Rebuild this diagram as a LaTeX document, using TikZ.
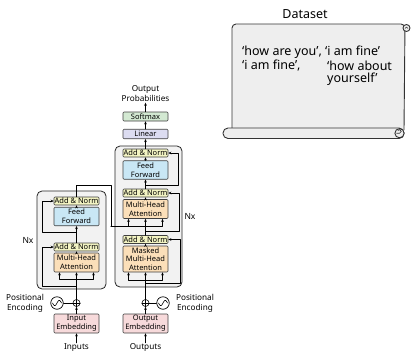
\documentclass[tikz,border=0pt]{standalone}
\usepackage{fontspec}
\setmainfont{Noto Sans}
\usetikzlibrary{arrows.meta}
\definecolor{anfill}{HTML}{F3F4C3}
\definecolor{fffill}{HTML}{C9E7F5}
\definecolor{mhafill}{HTML}{FBDFB9}
\definecolor{embfill}{HTML}{F7DADB}
\definecolor{linfill}{HTML}{DCDCF1}
\definecolor{smfill}{HTML}{D3E9D2}
\definecolor{layerfill}{HTML}{F2F2F2}
\definecolor{scrollfill}{HTML}{EEEEEE}
\begin{document}
\begin{tikzpicture}[x=1pt,y=-1pt,line join=round,line cap=round,>={Stealth[length=3pt,width=2.6pt]},
	font=\fontsize{8.2}{10}\selectfont,
	lbl/.style={inner sep=1pt,align=center},
	blk/.style={draw=black!75,line width=0.6pt,rounded corners=1pt,minimum width=45pt,inner sep=0pt,align=center,font=\fontsize{7.5}{8.7}\selectfont},
	addnorm/.style={blk,fill=anfill,minimum height=8pt},
	ffn/.style={blk,fill=fffill,minimum height=18.5pt},
	mha/.style={blk,fill=mhafill,minimum height=19pt},
	emb/.style={blk,fill=embfill,minimum height=19pt},
	layer/.style={draw=black!85,fill=layerfill,rounded corners=5pt,line width=0.8pt},
	sumnode/.style={draw,circle,minimum size=7pt,inner sep=0pt,line width=0.6pt},
	wavenode/.style={draw,circle,minimum size=12.5pt,inner sep=0pt,line width=0.7pt},
	scroll/.style={draw=black!80,fill=scrollfill,line width=0.9pt}]
	\useasboundingbox (0,0) rectangle (412,354);
	% encoder and decoder stacks
	\draw[layer] (37,191) rectangle (106,289);
	\draw[layer] (115,146) rectangle (182,287);
	\node[addnorm] (eAN2) at (76.5,201) {Add \& Norm};
	\node[ffn] (eFF) at (76.5,216.5) {Feed\\Forward};
	\node[addnorm] (eAN1) at (76.5,247) {Add \& Norm};
	\node[mha] (eMHA) at (76.5,262.5) {Multi-Head\\Attention};
	\node[sumnode] (eSum) at (76.5,303) {};
	\node[wavenode] (eWave) at (57,303) {};
	\node[emb] (eEmb) at (76.5,323.5) {Input\\Embedding};
	\node[lbl] (inp) at (76.5,348) {Inputs};
	\node[lbl] (ePE) at (25,303) {Positional\\Encoding};
	\node[lbl,font=\fontsize{8.5}{10}\selectfont] (eN) at (28,240) {Nx};
	\node[lbl] (prob) at (145.5,93.5) {Output\\Probabilities};
	\node[blk,fill=smfill,minimum height=9pt] (soft) at (145.5,116.5) {Softmax};
	\node[blk,fill=linfill,minimum height=9.5pt] (lin) at (145.5,134) {Linear};
	\node[addnorm] (dAN3) at (145.5,153) {Add \& Norm};
	\node[ffn] (dFF) at (145.5,170) {Feed\\Forward};
	\node[addnorm] (dAN2) at (145.5,193) {Add \& Norm};
	\node[mha] (dMHA) at (145.5,209) {Multi-Head\\Attention};
	\node[addnorm] (dAN1) at (145.5,239.5) {Add \& Norm};
	\node[mha,minimum height=26pt] (dMMHA) at (145.5,259) {Masked\\Multi-Head\\Attention};
	\node[sumnode] (dSum) at (145.5,303) {};
	\node[wavenode] (dWave) at (163,303) {};
	\node[emb] (dEmb) at (145.5,323.5) {Output\\Embedding};
	\node[lbl] (outp) at (145.5,348) {Outputs};
	\node[lbl] (dPE) at (195,303) {Positional\\Encoding};
	\node[lbl,font=\fontsize{8.5}{10}\selectfont] (dN) at (190,216) {Nx};
	\draw (eSum.north) -- (eSum.south) (eSum.west) -- (eSum.east);
	\draw (dSum.north) -- (dSum.south) (dSum.west) -- (dSum.east);
	\draw[shift={(eWave.center)},line width=0.6pt,smooth,samples=30,domain=-4.5:4.5] plot(\x,{-2.6*sin(\x*40)});
	\draw[shift={(dWave.center)},line width=0.6pt,smooth,samples=30,domain=-4.5:4.5] plot(\x,{-2.6*sin(\x*40)});
	\coordinate (eQKV) at (76.5,279);
	\coordinate (eRes1) at (76.5,286);
	\coordinate (eRes2) at (76.5,232);
	\coordinate (encOut) at (111,185);
	\coordinate (kv) at (111,226.5);
	\coordinate (dQKV) at (145.5,280);
	\coordinate (dRes1) at (145.5,283);
	\coordinate (dRes2) at (145.5,231);
	\coordinate (dRes3) at (145.5,185);
	\begin{scope}[line width=0.6pt]
		\draw[->] (inp) -- (eEmb);
		\draw[->] (eEmb) -- (eSum);
		\draw (eWave) -- (eSum);
		\draw[->] (eSum) -- (eMHA);
		\draw[->] (eQKV) -| ([xshift=-17pt]eMHA.south);
		\draw[->] (eQKV) -| ([xshift=17pt]eMHA.south);
		\draw[->] (eRes1) -| ([xshift=-11pt]eAN1.west) -- (eAN1.west);
		\draw[->] (eMHA) -- (eAN1);
		\draw[->] (eAN1) -- (eFF);
		\draw[->] (eRes2) -| ([xshift=-11pt]eAN2.west) -- (eAN2.west);
		\draw[->] (eFF) -- (eAN2);
		\draw (eAN2) |- (encOut) -- (kv);
		\draw[->] (kv) -| ([xshift=-17pt]dMHA.south);
		\draw (kv) -- (kv -| dMHA.south);
		\draw[->] (kv -| dMHA.south) -| ([xshift=17pt]dMHA.south);
		\draw[->] (outp) -- (dEmb);
		\draw[->] (dEmb) -- (dSum);
		\draw (dWave) -- (dSum);
		\draw[->] (dSum) -- (dMMHA);
		\draw[->] (dQKV) -| ([xshift=-17pt]dMMHA.south);
		\draw[->] (dQKV) -| ([xshift=17pt]dMMHA.south);
		\draw[->] (dRes1) -| ([xshift=12pt]dAN1.east) -- (dAN1.east);
		\draw[->] (dMMHA) -- (dAN1);
		\draw[->] (dAN1) -- (dMHA);
		\draw[->] (dRes2) -| ([xshift=11pt]dAN2.east) -- (dAN2.east);
		\draw[->] (dMHA) -- (dAN2);
		\draw[->] (dAN2) -- (dFF);
		\draw[->] (dRes3) -| ([xshift=10pt]dAN3.east) -- (dAN3.east);
		\draw[->] (dFF) -- (dAN3);
		\draw[->] (dAN3) -- (lin);
		\draw[->] (lin) -- (soft);
		\draw[->] (soft) -- (prob);
	\end{scope}
	% the scroll
	\node[lbl,font=\fontsize{12.5}{14}\selectfont] (title) at (305,14) {Dataset};
	\filldraw[scroll,rounded corners=4pt] (232,130) -- (232,24) -- (405,24) -- (404,130);
	\filldraw[scroll] (406.5,28) circle (3.5);
	\draw[line width=0.6pt,black!80] (405,28.5) arc (180:360:1.5);
	\filldraw[scroll,rounded corners=5pt] (223,128) rectangle (404,138.5);
	\filldraw[scroll] (399.5,133.2) circle (4.6);
	\draw[line width=0.6pt,black!80] (396.5,133.2) -- (399.5,133.2) arc (90:-150:1.8);
	\begin{scope}[font=\fontsize{12.5}{14}\selectfont,every node/.style={anchor=west,inner sep=0pt}]
		\node (q1) at (242,52) {‘how are you’, ‘i am fine’};
		\node (q2) at (242,65.5) {‘i am fine’,};
		\node (a2) at (327,65.5) {‘how about};
		\node (a3) at (327,79) {yourself’};
	\end{scope}
\end{tikzpicture}
\end{document}
